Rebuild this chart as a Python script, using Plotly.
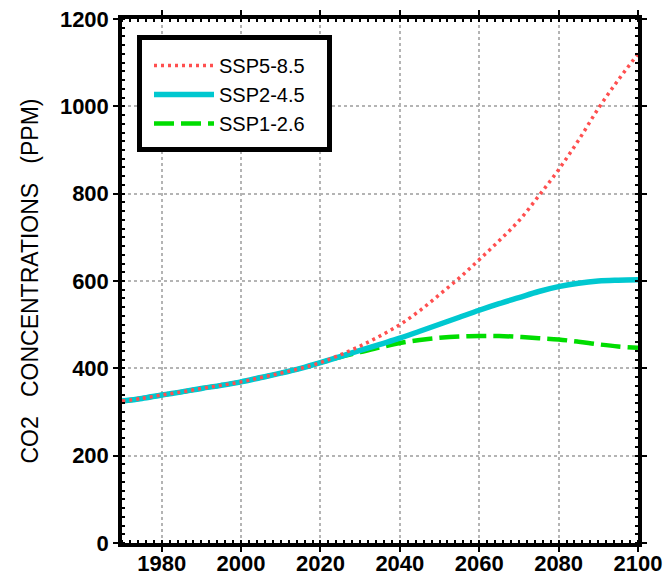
import plotly.graph_objects as go

years_hist = [1970, 1975, 1980, 1985, 1990, 1995, 2000, 2005, 2010, 2015]
co2_hist = [325, 331, 339, 346, 354, 361, 369, 379, 389, 400]

years_ssp = [2020, 2025, 2030, 2035, 2040, 2045, 2050, 2055, 2060, 2065,
             2070, 2075, 2080, 2085, 2090, 2095, 2100]
ssp585 = [413, 431, 451, 474, 500, 532, 569, 607, 649, 692, 738, 795, 855, 922, 995, 1060, 1120]
ssp245 = [413, 427, 441, 455, 469, 485, 501, 517, 533, 548, 562, 576, 587, 595, 600, 602, 603]
ssp126 = [413, 426, 437, 448, 458, 465, 470, 473, 474, 474, 472, 469, 466, 461, 455, 450, 447]

names = ["SSP5-8.5", "SSP2-4.5", "SSP1-2.6"]
colors = ["#ff4f4f", "#00c8d0", "#00dd00"]

x_all = years_hist + years_ssp

fig = go.Figure()
fig.add_trace(go.Scatter(x=x_all, y=co2_hist + ssp126, mode="lines", name=names[2],
                         line=dict(color=colors[2], width=4.5, dash="20px,7px", shape="spline"),
                         legendrank=3))
fig.add_trace(go.Scatter(x=x_all, y=co2_hist + ssp245, mode="lines", name=names[1],
                         line=dict(color=colors[1], width=5.5, shape="spline"),
                         legendrank=2))
fig.add_trace(go.Scatter(x=x_all, y=co2_hist + ssp585, mode="lines", name=names[0],
                         line=dict(color=colors[0], width=3.5, dash="3px,4px", shape="spline"),
                         legendrank=1))

font_family = "Liberation Sans, Arial, sans-serif"

# plot area in pixels: x 122..638, y 19..543
def px_x(p):
    return (p - 122) / 516.0

def px_y(p):
    return (543 - p) / 524.0

fig.add_shape(type="rect", xref="paper", yref="paper",
              x0=px_x(139.5), x1=px_x(329.5), y0=px_y(149.5), y1=px_y(37.5),
              line=dict(color="black", width=5), fillcolor="white", layer="above")

fig.update_layout(
    width=669, height=577,
    margin=dict(l=122, r=31, t=19, b=34),
    paper_bgcolor="white", plot_bgcolor="white",
    font=dict(family=font_family, color="black"),
    showlegend=True,
    legend=dict(x=px_x(149), y=px_y(46), xanchor="left", yanchor="top",
                borderwidth=0, bgcolor="rgba(0,0,0,0)",
                font=dict(size=20, family=font_family, color="black"),
                itemwidth=60, tracegroupgap=0, traceorder="normal"),
    xaxis=dict(range=[1970, 2100], tickvals=[1980, 2000, 2020, 2040, 2060, 2080, 2100],
               automargin=False, ticklabelstandoff=-7,
               showline=True, linecolor="black", linewidth=3.5, mirror="allticks",
               ticks="outside", ticklen=5, tickwidth=2, tickcolor="black",
               tickfont=dict(size=22, weight="bold", family=font_family),
               showgrid=True, gridcolor="#b4b4b4", gridwidth=2, griddash="dot",
               minor=dict(dtick=2, ticks="inside", ticklen=3, tickwidth=1.5, tickcolor="black", showgrid=False),
               zeroline=False),
    yaxis=dict(range=[0, 1200], tickvals=[0, 200, 400, 600, 800, 1000, 1200],
               automargin=False,
               showline=True, linecolor="black", linewidth=3.5, mirror="allticks",
               ticks="outside", ticklen=5, tickwidth=2, tickcolor="black",
               tickfont=dict(size=22, weight="bold", family=font_family),
               showgrid=True, gridcolor="#b4b4b4", gridwidth=2, griddash="dot",
               minor=dict(dtick=20, ticks="inside", ticklen=3, tickwidth=1.5, tickcolor="black", showgrid=False),
               title=dict(text="CO2   CONCENTRATIONS   (PPM)", font=dict(size=23, family=font_family),
                          standoff=16),
               zeroline=False),
)

fig.write_html("out.html")
